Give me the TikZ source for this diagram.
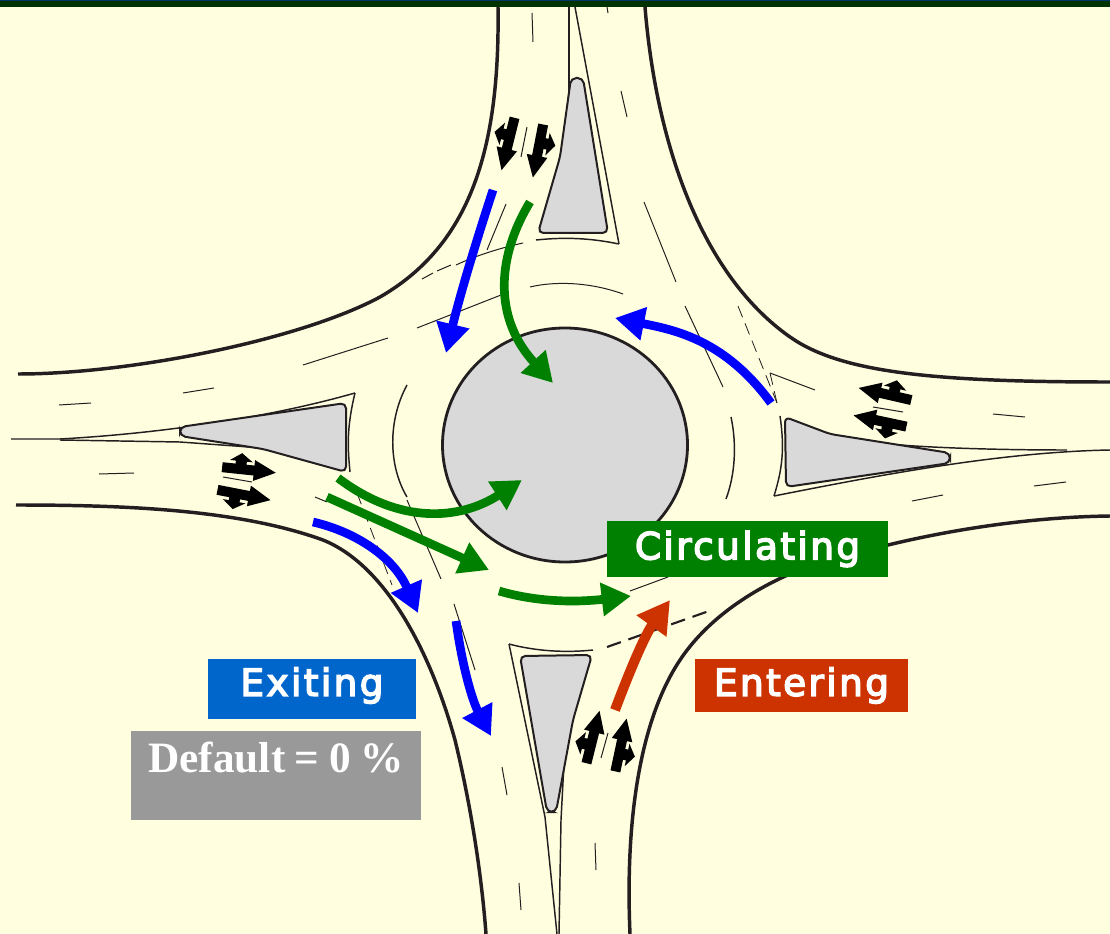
\documentclass[tikz,border=0pt]{standalone}
\usepackage{fontspec}
\setmainfont{Liberation Serif}
\newfontfamily\labelfont[LetterSpace=6.5,FakeBold=4]{DejaVu Sans}
\usetikzlibrary{arrows.meta}
\definecolor{Paper}{HTML}{FFFFE0}
\definecolor{Ink}{HTML}{231F20}
\definecolor{Island}{HTML}{D9D9D9}
\definecolor{FlowBlue}{HTML}{0000FF}
\definecolor{FlowGreen}{HTML}{008000}
\definecolor{FlowRed}{HTML}{CC3300}
\definecolor{ExitBlue}{HTML}{0066CC}
\definecolor{Grey}{HTML}{999999}
\definecolor{BarGreen}{HTML}{003300}
\definecolor{BarBlue}{HTML}{003366}
\newcommand{\lanearrow}[4]{%
  \fill[black,shift={(#1,#2)},rotate=#3,yscale=#4]
    (-27,5) -- (5,5) -- (5,10.5) -- (27,0) -- (5,-10.5) -- (5,-5) -- (-3,-5) -- (-3,-8) -- (3,-8)
    -- (-8.5,-16) -- (-20,-8) -- (-14,-8) -- (-14,-5) -- (-27,-5) -- cycle;
}
\tikzset{
  curbline/.style={draw=Ink,line width=2.6pt},
  laneline/.style={draw=Ink,line width=0.75pt},
  edgeline/.style={draw=Ink,line width=1.1pt},
  dashline/.style={draw=Ink,line width=0.6pt,dash pattern=on 9pt off 5pt},
  island/.style={draw=Ink,fill=Island,line width=1.5pt,rounded corners=4pt},
  flowarrow/.style={-{Triangle[length=22pt,width=24pt]},line width=6.5pt},
  tagbox/.style={inner sep=0pt,font=\labelfont\fontsize{28}{30}\selectfont,text=white}
}
\begin{document}
\begin{tikzpicture}[x=0.75pt,y=-0.75pt]
  \useasboundingbox (0,0) rectangle (1110,934);
  \fill[Paper] (0,0) rectangle (1110,934);
  \fill[BarGreen] (0,0) rectangle (1110,7);
  \fill[BarBlue] (0,0) rectangle (1110,1.5);
  % curbs
  \draw[curbline] (498,7) .. controls (500,150) and (470,245) .. (380,297) .. controls (300,340) and (130,374) .. (18,374);
  \draw[curbline] (645,7) .. controls (655,130) and (695,270) .. (790,337) .. controls (840,372) and (930,382) .. (1110,382);
  \draw[curbline] (16,505) .. controls (130,505) and (240,510) .. (323,540) .. controls (385,565) and (430,650) .. (455,740) .. controls (472,810) and (482,880) .. (486,934);
  \draw[curbline] (630,934) .. controls (625,820) and (640,720) .. (680,660) .. controls (720,600) and (800,560) .. (888,545) .. controls (950,530) and (1030,517) .. (1110,516);
  % island outlines
  \draw[edgeline] (569,7) -- (569,113);
  \draw[edgeline] (575,7) -- (619,244);
  \draw[edgeline] (536,240) .. controls (565,237) and (590,238) .. (619,244);
  \draw[edgeline] (11,439) -- (60,439) .. controls (150,434) and (260,420) .. (355,393);
  \draw[edgeline] (60,440) -- (180,442) -- (263,448);
  \draw[edgeline] (355,393) .. controls (346,430) and (348,450) .. (350,472);
  \draw[edgeline] (780,416) .. controls (785,450) and (782,470) .. (774,496);
  \draw[edgeline] (774,496) .. controls (880,475) and (1000,452) .. (1110,450);
  \draw[edgeline] (900,445) .. controls (940,448) and (1000,450) .. (1067,450);
  \draw[edgeline] (509,644) .. controls (535,651) and (565,653) .. (593,650);
  \draw[edgeline] (509,644) -- (545,817) -- (557,934);
  \draw[edgeline] (564,763) -- (561,820) -- (559,934);
  % lane markings
  \foreach \xa/\ya/\xb/\yb in {532/13/533/42,607/7/608/13,621/91/627/117,644/202/676/282,527/127/521/157,506/204/487/250,
      303/365/388/338,685/306/723/387,770/373/815/390,183/393/214/388,223/477/252/482,315/497/327/502,407/500/441/579,
      59/405/91/403,99/474/134/473,993/414/1025/417,1034/486/1066/482,912/501/943/495,873/407/903/412,608/733/601/758,
      502/767/507/795,519/883/521/910,595/843/596/870,630/591/668/577,454/604/475/670,422/279/433/273,437/271/451/265}
    \draw[laneline] (\xa,\ya) -- (\xb,\yb);
  \draw[laneline] (456,265) .. controls (475,256) and (500,248) .. (523,243);
  \draw[laneline] (417,328) -- (501,295);
  \draw[laneline] (530,287) .. controls (555,281) and (590,282) .. (623,294);
  \draw[edgeline] (407,385) .. controls (388,420) and (388,465) .. (407,497);
  \draw[edgeline] (731,417) .. controls (737,445) and (735,475) .. (726,499);
  \draw[dashline] (738,306) -- (777,403);
  \draw[dashline] (770,373) -- (777,403);
  \draw[dashline] (357,493) -- (392,585);
  \draw[draw=Ink,line width=1.6pt,dash pattern=on 11pt off 6pt] (607,647) -- (709,611);
  % splitters and central island
  \draw[island] (538,233) -- (560,157) -- (571,78) -- (583,78) -- (608,233) -- cycle;
  \draw[island] (180,427) -- (346,403) -- (346,472) -- (263,449) -- (180,436) -- cycle;
  \draw[island] (785,417) -- (830,434) -- (950,453) -- (950,463) -- (786,487) -- cycle;
  \draw[island] (520,656) -- (592,655) -- (573,720) -- (556,812) -- (547,812) -- cycle;
  \draw[draw=Ink,fill=Island,line width=2.1pt] (565,445) ellipse [x radius=122.5,y radius=117];
  % lane arrows
  \lanearrow{508}{144}{256}{-1}
  \lanearrow{538}{151}{259}{1}
  \lanearrow{249}{470}{-6}{1}
  \lanearrow{244}{495}{-11}{-1}
  \lanearrow{885}{394}{167}{-1}
  \lanearrow{880}{421}{168}{1}
  \lanearrow{593}{737}{76}{1}
  \lanearrow{621}{745}{78}{-1}
  % flows
  \draw[flowarrow,FlowBlue] (493,190) .. controls (475,245) and (460,295) .. (446,353);
  \draw[flowarrow,FlowGreen] (530,202) .. controls (495,260) and (495,320) .. (553,383);
  \draw[flowarrow,FlowBlue] (771,403) .. controls (725,340) and (675,330) .. (615,318);
  \draw[flowarrow,FlowGreen] (338,478) .. controls (400,525) and (460,520) .. (522,480);
  \draw[flowarrow,FlowGreen] (327,497) -- (489,570);
  \draw[flowarrow,FlowGreen] (499,591) .. controls (540,603) and (580,602) .. (631,596);
  \draw[-{Triangle[length=24pt,width=26pt]},line width=7.5pt,FlowRed] (615,710) .. controls (630,670) and (645,635) .. (670,600);
  \draw[flowarrow,FlowBlue] (313,522) .. controls (360,533) and (395,560) .. (418,613);
  \draw[flowarrow,FlowBlue] (456,621) .. controls (462,665) and (472,700) .. (491,736);
  % labels
  \node[tagbox,fill=FlowGreen,minimum width=210.75pt,minimum height=42pt] (circulating) at (747.5,549) {Circulating};
  \node[tagbox,fill=ExitBlue,minimum width=156pt,minimum height=45pt,text depth=11pt] (exiting) at (312,689) {Exiting};
  \node[tagbox,fill=FlowRed,minimum width=160pt,minimum height=39.75pt] (entering) at (801.5,685.5) {Entering};
  \node[inner sep=0pt,fill=Grey,text=white,text width=217.5pt,align=center,text height=31pt,text depth=36pt,
    font=\bfseries\fontsize{32.5}{34}\selectfont] (defaultbox) at (276,775.5) {\spaceskip=0.22em Default = 0 \%};
\end{tikzpicture}
\end{document}
